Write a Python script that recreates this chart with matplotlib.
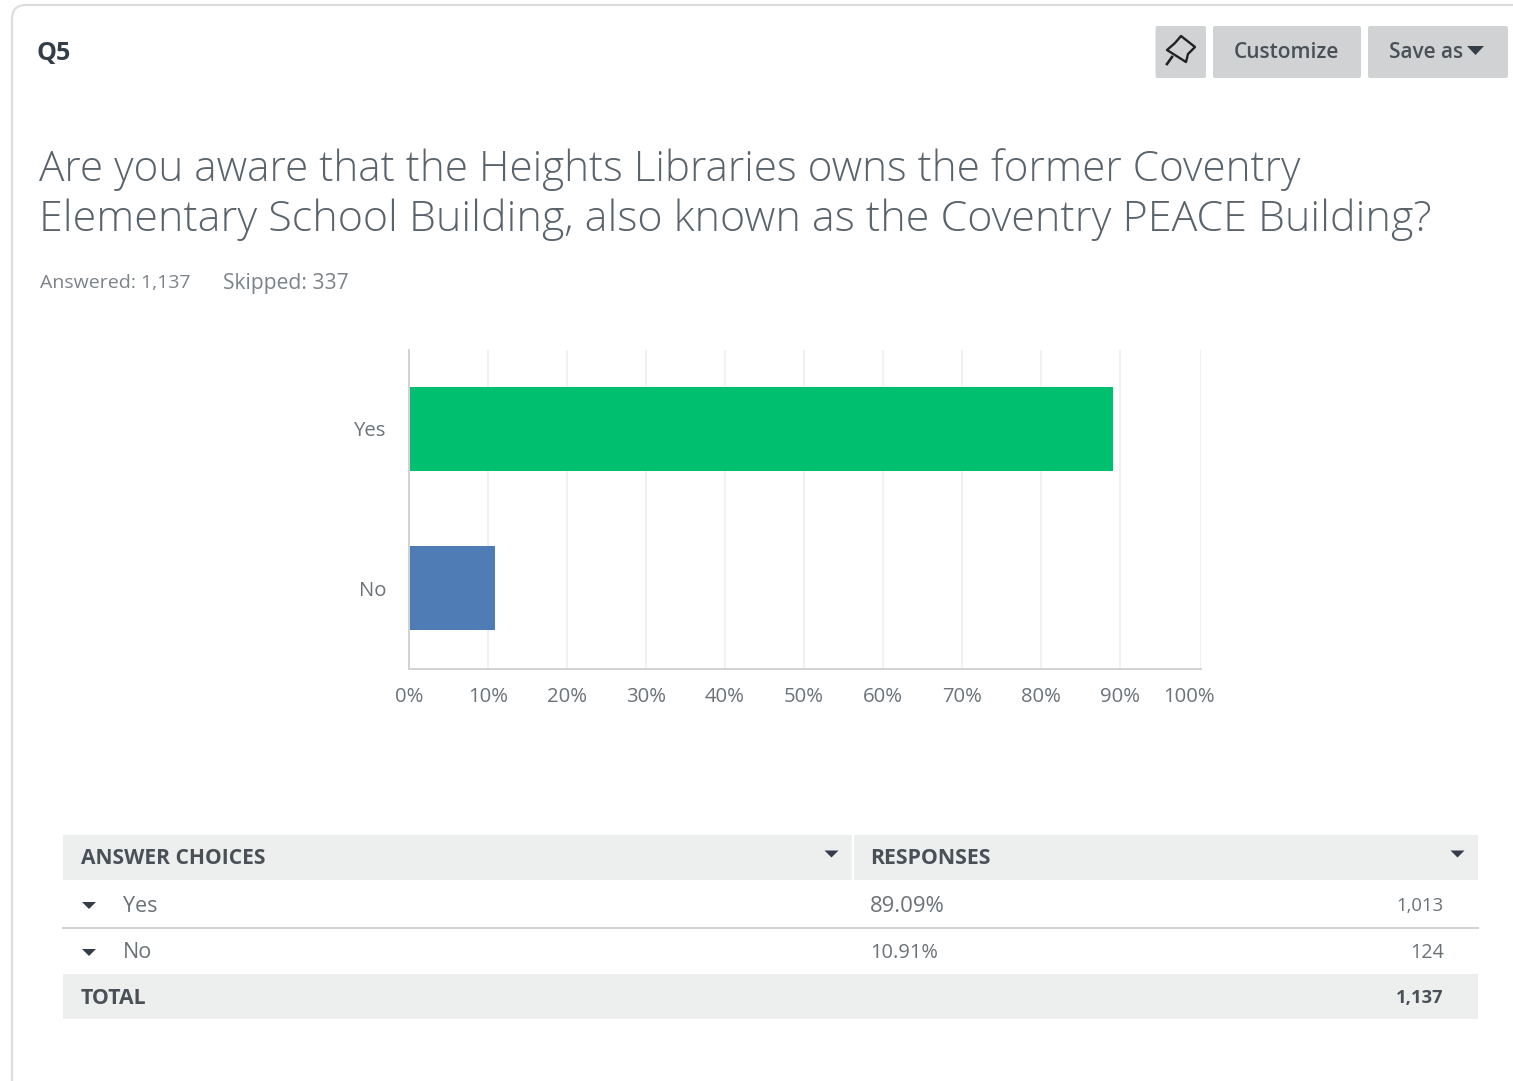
import matplotlib
matplotlib.use("Agg")
import matplotlib.pyplot as plt
from matplotlib.patches import FancyBboxPatch, Rectangle, Polygon
from matplotlib.transforms import ScaledTranslation

categories = ["Yes", "No"]
percents = [89.09, 10.91]
counts = ["1,013", "124"]
pct_labels = ["89.09%", "10.91%"]
total = "1,137"
bar_colors = ["#00bf6f", "#507cb6"]
ticks = list(range(0, 101, 10))
tick_labels = [f"{t}%" for t in ticks]
title_lines = ["Are you aware that the Heights Libraries owns the former Coventry",
               "Elementary School Building, also known as the Coventry PEACE Building?"]

W, H = 1513, 1081
plt.rcParams["font.family"] = ["Open Sans", "DejaVu Sans"]
fig = plt.figure(figsize=(W / 100, H / 100), dpi=100, facecolor="white")

ui = fig.add_axes([0, 0, 1, 1], zorder=0)
ui.set_xlim(0, W)
ui.set_ylim(H, 0)
ui.axis("off")

# Card outline
ui.add_patch(FancyBboxPatch((12, 5), 1700, 1300, boxstyle="round,pad=0,rounding_size=14",
                            fc="white", ec="#dcdede", lw=1.6, clip_on=True))

# Buttons
for x0, x1 in [(1155.5, 1206), (1213, 1361), (1368, 1508)]:
    ui.add_patch(FancyBboxPatch((x0, 26), x1 - x0, 52, boxstyle="round,pad=0,rounding_size=2",
                                fc="#d0d2d3", ec="none"))
ui.text(1286, 53, "Customize", ha="center", va="center", fontsize=15, color="#4a5058", weight="semibold")
ui.text(1389, 53, "Save as", ha="left", va="center", fontsize=15, color="#4a5058", weight="semibold")
ui.add_patch(Polygon([(1467, 46), (1484, 46), (1475.5, 55)], fc="#333e48", ec="none"))

# Pin icon
ui.add_patch(Polygon([(1181, 36), (1195, 47), (1188, 54), (1186, 62), (1167, 50), (1175, 43)],
                     fc="none", ec="#222222", lw=1.7, joinstyle="round"))
ui.plot([1172, 1167], [57, 64], color="#222222", lw=1.9)

# Header text
ui.text(37, 53, "Q5", ha="left", va="center", fontsize=18, color="#333e48", weight="bold")
ui.text(39, 170, title_lines[0], ha="left", va="center", fontsize=30.45, color="#59636b", weight="light")
ui.text(39, 220, title_lines[1], ha="left", va="center", fontsize=31, color="#59636b", weight="light")
ui.text(40, 283, "Answered: 1,137", ha="left", va="center", fontsize=14.0, color="#7c8388")
ui.text(223, 283, "Skipped: 337", ha="left", va="center", fontsize=15.2, color="#7c8388")

# Table
TBL_L, TBL_R, TBL_M = 63, 1478, 852
ui.add_patch(Rectangle((TBL_L, 835), TBL_M - TBL_L, 45, fc="#edeeee", ec="none"))
ui.add_patch(Rectangle((TBL_M + 2, 835), TBL_R - TBL_M - 2, 45, fc="#edeeee", ec="none"))
ui.add_patch(Rectangle((TBL_L, 974), TBL_R - TBL_L, 45, fc="#edeeee", ec="none"))
ui.plot([TBL_L, TBL_R], [927.5, 927.5], color="#d0d2d3", lw=1.4)

def caret(x, y, w=14, h=7):
    ui.add_patch(Polygon([(x - w / 2, y - h / 2), (x + w / 2, y - h / 2), (x, y + h / 2)],
                         fc="#333e48", ec="none"))

HEAD_C = "#4a5058"
ui.text(81, 859, "ANSWER CHOICES", ha="left", va="center", fontsize=15.1, color=HEAD_C, weight="bold")
ui.text(870, 859, "RESPONSES", ha="left", va="center", fontsize=15.3, color=HEAD_C, weight="bold")
caret(831.5, 854)
caret(1457.5, 854)
for cat, pct, cnt, y, pct_size, cnt_size in zip(categories, pct_labels, counts, [906, 953],
                                                 [15.9, 14.4], [13.3, 14.2]):
    caret(89, y - 0.5)
    ui.text(123, y, cat, ha="left", va="center", fontsize=15.5, color="#6b7278")
    ui.text(870, y, pct, ha="left", va="center", fontsize=pct_size, color="#6b7278")
    ui.text(1444, y, cnt, ha="right", va="center", fontsize=cnt_size, color="#6b7278")
ui.text(81, 998, "TOTAL", ha="left", va="center", fontsize=15.3, color=HEAD_C, weight="bold")
ui.text(1444, 998, total, ha="right", va="center", fontsize=13.2, color=HEAD_C, weight="bold")

# Chart: 79 px per ten percent; the plot frame runs slightly past the 100 mark.
L, R, T, B = 409, 1201, 350, 669
XMAX = (R - L) / 7.9
ax = fig.add_axes([L / W, 1 - B / H, (R - L) / W, (B - T) / H], zorder=1)
ax.patch.set_alpha(0)
ax.set_xlim(0, XMAX)
ax.set_ylim(1.506, -0.494)
ax.set_axisbelow(True)
ax.grid(axis="x", color="#eeefef", lw=1.2)
ax.barh(range(len(categories)), percents, height=0.525, color=bar_colors)
ax.set_yticks(range(len(categories)), categories)
ax.set_xticks(ticks[:-1] + [XMAX], tick_labels)
ax.tick_params(axis="both", length=0, labelsize=14.6, labelcolor="#6b7278")
ax.tick_params(axis="x", pad=13)
ax.tick_params(axis="y", pad=16.5)
for s in ["top", "right"]:
    ax.spines[s].set_visible(False)
for s in ["left", "bottom"]:
    ax.spines[s].set_color("#d0d2d3")
    ax.spines[s].set_linewidth(1.4)
# The final tick label sits left of its gridline in the reference.
last = ax.get_xticklabels()[-1]
last.set_transform(last.get_transform() + ScaledTranslation(-12 / 100, 0, fig.dpi_scale_trans))

fig.savefig("out.png", dpi=100, facecolor="white")
